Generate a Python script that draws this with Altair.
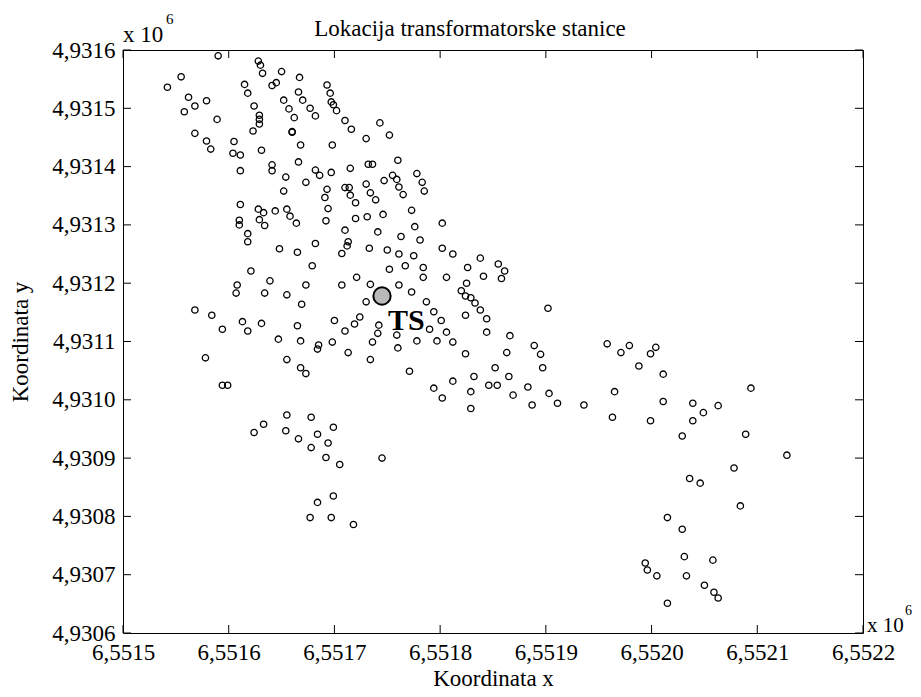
import altair as alt
import pandas as pd

# ---- data (coordinates in metres) ----
x_vals = [
    6551590, 6551628, 6551630, 6551632, 6551650, 6551667, 6551555, 6551542, 6551615, 6551618,
    6551641, 6551645, 6551666, 6551670, 6551562, 6551568, 6551579, 6551558, 6551624, 6551652,
    6551657, 6551662, 6551589, 6551629, 6551629, 6551629, 6551623, 6551660, 6551660, 6551568,
    6551579, 6551583, 6551605, 6551604, 6551611, 6551631, 6551668, 6551666, 6551611, 6551641,
    6551641, 6551654, 6551673, 6551652, 6551611, 6551628, 6551633, 6551644, 6551655, 6551658,
    6551664, 6551610, 6551610, 6551629, 6551634, 6551618, 6551618, 6551648, 6551665, 6551621,
    6551639, 6551608, 6551673, 6551607, 6551634, 6551655, 6551669, 6551568, 6551584, 6551594,
    6551613, 6551618, 6551631, 6551665, 6551647, 6551668, 6551578, 6551655, 6551668, 6551673,
    6551594, 6551599, 6551655, 6551677, 6551682, 6551693, 6551696, 6551697, 6551699, 6551702,
    6551710, 6551716, 6551743, 6551730, 6551752, 6551698, 6551760, 6551732, 6551736, 6551715,
    6551682, 6551686, 6551697, 6551755, 6551759, 6551778, 6551783, 6551785, 6551747, 6551730,
    6551761, 6551765, 6551710, 6551714, 6551693, 6551691, 6551715, 6551720, 6551734, 6551739,
    6551694, 6551773, 6551746, 6551731, 6551720, 6551692, 6551802, 6551776, 6551710, 6551741,
    6551763, 6551781, 6551682, 6551713, 6551712, 6551707, 6551733, 6551750, 6551761, 6551775,
    6551802, 6551812, 6551838, 6551679, 6551752, 6551767, 6551784, 6551784, 6551826, 6551806,
    6551721, 6551707, 6551734, 6551761, 6551773, 6551787, 6551730, 6551794, 6551801, 6551824,
    6551700, 6551724, 6551719, 6551710, 6551742, 6551741, 6551759, 6551790, 6551806, 6551698,
    6551685, 6551684, 6551736, 6551778, 6551797, 6551812, 6551760, 6551713, 6551734, 6551824,
    6551771, 6551812, 6551832, 6551794, 6551829, 6551802, 6551829, 6551678, 6551825, 6551820,
    6551824, 6551829, 6551833, 6551838, 6551855, 6551861, 6551858, 6551841, 6551844, 6551902,
    6551844, 6551866, 6551863, 6551889, 6551895, 6551852, 6551897, 6551865, 6551846, 6551854,
    6551883, 6551869, 6551903, 6551887, 6551911, 6551936, 6551958, 6551971, 6551979, 6552004,
    6551999, 6551988, 6552011, 6551965, 6552011, 6551963, 6551999, 6552039, 6552039, 6552049,
    6552063, 6552094, 6552029, 6552089, 6552128, 6552078, 6552036, 6552046, 6552084, 6552015,
    6552029, 6552031, 6552058, 6551994, 6551996, 6552005, 6552033, 6551633, 6551624, 6551654,
    6551699, 6551684, 6551666, 6551694, 6551678, 6551692, 6551705, 6551745, 6551699, 6551684,
    6551677, 6551697, 6551718, 6552015, 6552050, 6552059, 6552063,
]
y_vals = [
    4931590, 4931581, 4931574, 4931560, 4931563, 4931553, 4931554, 4931536, 4931541, 4931526,
    4931539, 4931544, 4931528, 4931514, 4931519, 4931504, 4931513, 4931494, 4931504, 4931514,
    4931499, 4931484, 4931481, 4931488, 4931481, 4931473, 4931461, 4931460, 4931459, 4931457,
    4931444, 4931430, 4931443, 4931423, 4931420, 4931428, 4931437, 4931408, 4931393, 4931403,
    4931393, 4931382, 4931373, 4931358, 4931335, 4931327, 4931321, 4931324, 4931327, 4931315,
    4931303, 4931308, 4931300, 4931309, 4931299, 4931285, 4931271, 4931259, 4931253, 4931221,
    4931204, 4931197, 4931197, 4931183, 4931183, 4931180, 4931164, 4931154, 4931145, 4931121,
    4931134, 4931118, 4931131, 4931127, 4931104, 4931101, 4931072, 4931069, 4931055, 4931045,
    4931025, 4931025, 4930974, 4931500, 4931487, 4931540, 4931526, 4931511, 4931506, 4931496,
    4931479, 4931464, 4931475, 4931448, 4931454, 4931437, 4931411, 4931404, 4931404, 4931397,
    4931394, 4931385, 4931390, 4931385, 4931378, 4931388, 4931373, 4931358, 4931376, 4931370,
    4931365, 4931352, 4931364, 4931364, 4931361, 4931347, 4931351, 4931338, 4931355, 4931343,
    4931328, 4931325, 4931318, 4931314, 4931311, 4931307, 4931303, 4931297, 4931291, 4931288,
    4931280, 4931274, 4931268, 4931271, 4931264, 4931251, 4931260, 4931257, 4931250, 4931247,
    4931260, 4931250, 4931243, 4931230, 4931224, 4931230, 4931227, 4931210, 4931227, 4931210,
    4931210, 4931197, 4931198, 4931197, 4931185, 4931168, 4931168, 4931151, 4931136, 4931145,
    4931136, 4931142, 4931130, 4931118, 4931128, 4931114, 4931111, 4931121, 4931116, 4931099,
    4931094, 4931087, 4931099, 4931101, 4931101, 4931099, 4931089, 4931081, 4931069, 4931079,
    4931049, 4931032, 4931040, 4931020, 4931014, 4931003, 4930985, 4930970, 4931200, 4931187,
    4931178, 4931175, 4931166, 4931154, 4931233, 4931221, 4931208, 4931212, 4931139, 4931157,
    4931116, 4931110, 4931081, 4931093, 4931078, 4931055, 4931055, 4931040, 4931025, 4931025,
    4931022, 4931008, 4931011, 4930991, 4930994, 4930991, 4931096, 4931081, 4931093, 4931090,
    4931079, 4931058, 4931044, 4931014, 4930997, 4930970, 4930964, 4930994, 4930964, 4930978,
    4930990, 4931020, 4930938, 4930941, 4930905, 4930883, 4930865, 4930857, 4930818, 4930798,
    4930778, 4930731, 4930725, 4930720, 4930708, 4930698, 4930698, 4930958, 4930944, 4930947,
    4930953, 4930941, 4930933, 4930926, 4930918, 4930901, 4930889, 4930900, 4930835, 4930824,
    4930798, 4930798, 4930786, 4930651, 4930682, 4930670, 4930660,
]

ts_x = [6551745]
ts_y = [4931178]
ts_label = ["TS"]

# axis ticks, in units of 10^6 m (as the axes show them)
x_ticks = [6.5515, 6.5516, 6.5517, 6.5518, 6.5519, 6.5520, 6.5521, 6.5522]
y_ticks = [4.9306, 4.9307, 4.9308, 4.9309, 4.9310, 4.9311, 4.9312,
           4.9313, 4.9314, 4.9315, 4.9316]

title_text = "Lokacija transformatorske stanice"
x_title = "Koordinata x"
y_title = "Koordinata y"
exp_base = "x 10"
exp_power = "6"

UNIT = 1e6  # axes are drawn in units of 10^6 m

# ---- styling ----
FONT = "Liberation Serif"
FS = 23
W, H = 740, 583
TL = 8

xscale = alt.Scale(domain=[x_ticks[0], x_ticks[-1]], nice=False, zero=False)
yscale = alt.Scale(domain=[y_ticks[0], y_ticks[-1]], nice=False, zero=False)

common_axis = dict(format=".4f", ticks=False, domain=False, grid=False, labelFont=FONT,
                   labelFontSize=FS, labelColor="black", labelFlush=False, labelOverlap=False,
                   titleFont=FONT, titleFontSize=FS, titleFontWeight="normal", titleColor="black")
x_axis = alt.Axis(values=x_ticks, title=x_title, labelPadding=8, titlePadding=3, **common_axis)
y_axis = alt.Axis(values=y_ticks, title=y_title, labelPadding=8, titlePadding=19, **common_axis)


def X(field="x"):
    return alt.X(f"{field}:Q", scale=xscale, axis=x_axis)


def Y(field="y"):
    return alt.Y(f"{field}:Q", scale=yscale, axis=y_axis)


pts_df = pd.DataFrame({"x": [v / UNIT for v in x_vals], "y": [v / UNIT for v in y_vals]})
points = alt.Chart(pts_df).mark_point(
    shape="circle", filled=False, size=40, strokeWidth=1.3, color="black", opacity=1
).encode(x=X(), y=Y())

xt = alt.Chart(pd.DataFrame({"x": x_ticks}))
yt = alt.Chart(pd.DataFrame({"y": y_ticks}))
tick_style = dict(color="black", strokeWidth=1)
xtick_bottom = xt.mark_rule(**tick_style).encode(x=X(), y=alt.value(H), y2=alt.value(H - TL))
xtick_top = xt.mark_rule(**tick_style).encode(x=X(), y=alt.value(0), y2=alt.value(TL))
ytick_left = yt.mark_rule(**tick_style).encode(y=Y(), x=alt.value(0), x2=alt.value(TL))
ytick_right = yt.mark_rule(**tick_style).encode(y=Y(), x=alt.value(W), x2=alt.value(W - TL))

ts_df = pd.DataFrame({"x": [v / UNIT for v in ts_x], "y": [v / UNIT for v in ts_y],
                      "label": ts_label})
ts = alt.Chart(ts_df)
ts_point = ts.mark_circle(size=300, fill="#b9b9b9", stroke="black", strokeWidth=2,
                          opacity=1).encode(x=X(), y=Y())
ts_text = ts.mark_text(align="left", baseline="alphabetic", dx=6, dy=34, font=FONT,
                       fontSize=30, fontWeight="bold", color="black").encode(
    x=X(), y=Y(), text="label:N")

text_style = dict(font=FONT, color="black", baseline="alphabetic")
title_mark = alt.Chart().mark_text(text=title_text, align="center", fontSize=FS, **text_style).encode(
    x=alt.value(347), y=alt.value(-14))
exp_tl = alt.Chart().mark_text(text=exp_base, align="left", fontSize=FS, **text_style).encode(
    x=alt.value(0), y=alt.value(-8))
exp_tl_p = alt.Chart().mark_text(text=exp_power, align="left", fontSize=15, **text_style).encode(
    x=alt.value(43), y=alt.value(-26))
exp_br = alt.Chart().mark_text(text=exp_base, align="left", fontSize=21, **text_style).encode(
    x=alt.value(W + 4), y=alt.value(H - 1))
exp_br_p = alt.Chart().mark_text(text=exp_power, align="left", fontSize=14, **text_style).encode(
    x=alt.value(W + 42), y=alt.value(H - 18))

chart = alt.layer(
    points, xtick_bottom, xtick_top, ytick_left, ytick_right, ts_point, ts_text,
    title_mark, exp_tl, exp_tl_p, exp_br, exp_br_p,
).properties(
    width=W, height=H,
    autosize=alt.AutoSizeParams(type="none"),
    padding={"left": 115, "top": 42, "right": 50, "bottom": 56},
    background="white",
).configure(
    locale=alt.Locale(number=alt.NumberLocale(decimal=",", thousands=".", grouping=[3],
                                              currency=["", ""]))
).configure_view(stroke="black", strokeWidth=1)

chart.save("out.html", embed_options={"renderer": "svg", "actions": False})
